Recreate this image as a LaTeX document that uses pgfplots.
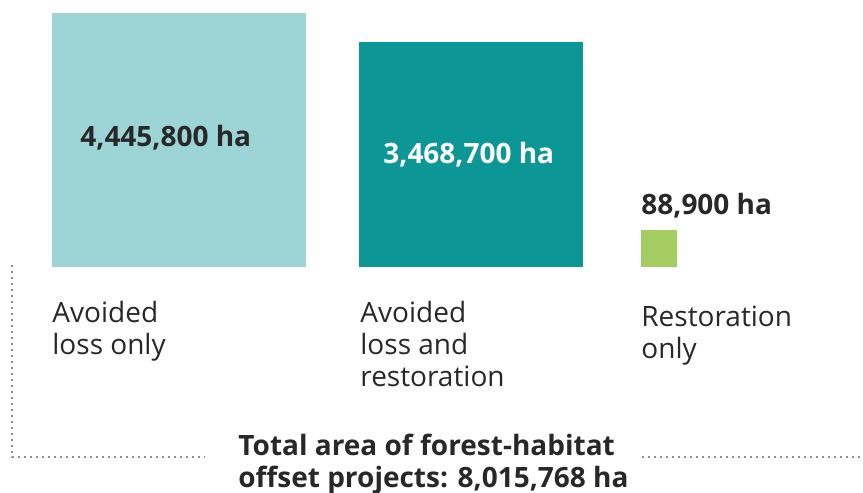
\documentclass[border=0pt]{standalone}
\usepackage{pgfplots}
\pgfplotsset{compat=1.18}
\usepackage{pgfplotstable}
\usepackage{fontspec}
\setmainfont{Open Sans}
\definecolor{tealL}{RGB}{157,213,214}
\definecolor{tealD}{RGB}{12,150,150}
\definecolor{greenS}{RGB}{165,204,96}
\definecolor{txt}{RGB}{40,40,40}
\definecolor{dotc}{RGB}{140,140,140}
% left edge (px) and area (ha); square side = 0.12*sqrt(area) px
\pgfplotstableread{
left v
52 4445800
359 3468700
641 88900
}\sq
\begin{document}
\begin{tikzpicture}[lbl/.style={anchor=base west, align=left, inner sep=0pt, text=txt, font=\fontsize{14}{16}\selectfont},
  blbl/.style={lbl, font=\fontsize{14}{16}\selectfont\bfseries}]
\useasboundingbox (0,0) rectangle (431.5pt,246.5pt);
\begin{axis}[
  scale only axis, width=431.5pt, height=246.5pt,
  xmin=0, xmax=863, ymin=0, ymax=493, y dir=reverse,
  axis lines=none, clip=false,
]
\addplot[scatter, only marks, mark=square*,
  skip coords between index={1}{3},
  visualization depends on={0.03*sqrt(\thisrow{v}) \as \ms},
  scatter/use mapped color={draw=tealL, fill=tealL},
  scatter/@pre marker code/.append style={/tikz/mark size=\ms}]
  table[x expr={\thisrow{left}+0.06*sqrt(\thisrow{v})}, y expr={266-0.06*sqrt(\thisrow{v})}] {\sq};
\addplot[scatter, only marks, mark=square*,
  skip coords between index={0}{1}, skip coords between index={2}{3},
  visualization depends on={0.03*sqrt(\thisrow{v}) \as \ms},
  scatter/use mapped color={draw=tealD, fill=tealD},
  scatter/@pre marker code/.append style={/tikz/mark size=\ms}]
  table[x expr={\thisrow{left}+0.06*sqrt(\thisrow{v})}, y expr={266-0.06*sqrt(\thisrow{v})}] {\sq};
\addplot[scatter, only marks, mark=square*,
  skip coords between index={0}{2},
  visualization depends on={0.03*sqrt(\thisrow{v}) \as \ms},
  scatter/use mapped color={draw=greenS, fill=greenS},
  scatter/@pre marker code/.append style={/tikz/mark size=\ms}]
  table[x expr={\thisrow{left}+0.06*sqrt(\thisrow{v})}, y expr={266-0.06*sqrt(\thisrow{v})}] {\sq};

\addplot[dotc, line width=1.2pt, dash pattern=on 1.2pt off 1.8pt] coordinates {(12,265) (12,457) (205,457)};
\addplot[dotc, line width=1.2pt, dash pattern=on 1.2pt off 1.8pt] coordinates {(642,457) (860,457)};

\coordinate (v1) at (axis cs:80,147);
\coordinate (v2) at (axis cs:383,164);
\coordinate (v3) at (axis cs:641,215);
\coordinate (c1) at (axis cs:52,355);
\coordinate (c2) at (axis cs:360,387);
\coordinate (c3) at (axis cs:641,359);
\coordinate (tt) at (axis cs:238,488);
\end{axis}
\node[blbl] at (v1) {4,445,800 ha};
\node[blbl, text=white] at (v2) {3,468,700 ha};
\node[blbl] at (v3) {88,900 ha};
\node[lbl] at (c1) {Avoided\\loss only};
\node[lbl] at (c2) {Avoided\\loss and\\restoration};
\node[lbl] at (c3) {Restoration\\only};
\node[blbl] at (tt) {Total area of forest-habitat\\offset projects: 8,015,768 ha};
\end{tikzpicture}
\end{document}
